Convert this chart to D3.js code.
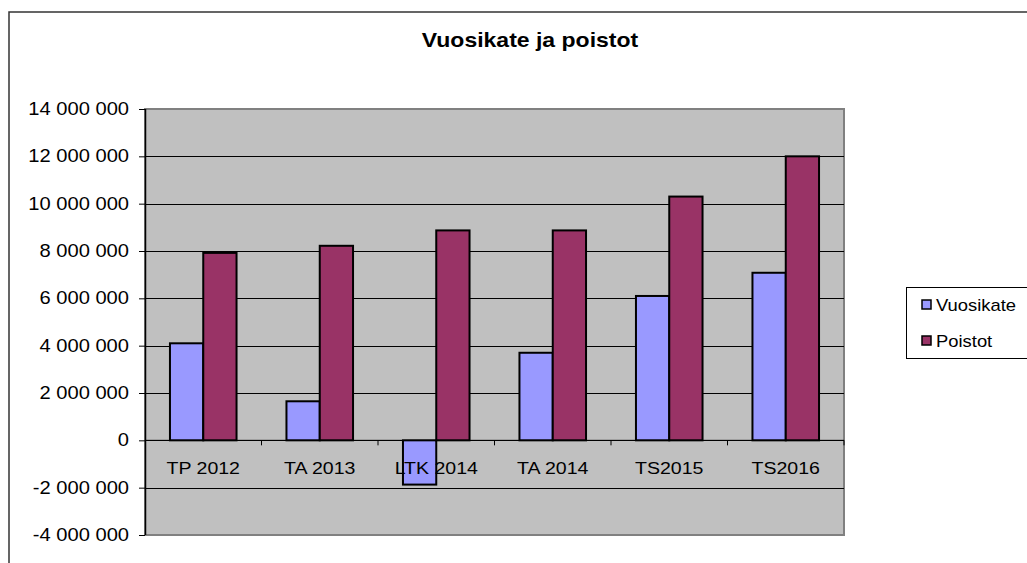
<!DOCTYPE html>
<html lang="fi">
<head>
<meta charset="utf-8"/>
<title>Vuosikate ja poistot</title>
<script src="https://d3js.org/d3.v7.min.js"></script>
<style>
  body { margin: 0; background: #fff; }
  text { font-family: "Liberation Sans", Arial, sans-serif; fill: #000; }
  .axis .domain { display: none; }
</style>
</head>
<body>
<div id="chart"></div>
<script>
// data
var categories = ["TP 2012", "TA 2013", "LTK 2014", "TA 2014", "TS2015", "TS2016"];
var seriesNames = ["Vuosikate", "Poistot"];
var vuosikate = [4100000, 1650000, -1870000, 3700000, 6100000, 7080000];
var poistot = [7920000, 8220000, 8870000, 8870000, 10300000, 12000000];
var yTicks = [-4000000, -2000000, 0, 2000000, 4000000, 6000000, 8000000, 10000000, 12000000, 14000000];
var colors = ["#9999ff", "#993366"];

var width = 1027, height = 563;
var plot = {left: 145, right: 844, top: 109, bottom: 535};
var sx = 1.15; // the original text runs wider than Arial

var svg = d3.select("#chart").append("svg")
    .attr("width", width)
    .attr("height", height);

// chart frame
svg.append("path")
    .attr("d", "M9," + (height + 2) + "V12H" + (width + 2))
    .attr("fill", "none")
    .attr("stroke", "#333")
    .attr("stroke-width", 1.5);

svg.append("text")
    .attr("transform", "translate(530,47) scale(" + sx + ",1)")
    .attr("text-anchor", "middle")
    .attr("font-size", 20)
    .attr("font-weight", "bold")
    .text("Vuosikate ja poistot");

var x0 = d3.scaleBand()
    .domain(categories)
    .range([plot.left, plot.right]);

var x1 = d3.scaleBand()
    .domain(seriesNames)
    .range([0, x0.bandwidth()])
    .paddingOuter(0.75);

var y = d3.scaleLinear()
    .domain([-4000000, 14000000])
    .range([plot.bottom, plot.top]);

svg.append("rect")
    .attr("x", plot.left)
    .attr("y", plot.top)
    .attr("width", plot.right - plot.left)
    .attr("height", plot.bottom - plot.top)
    .attr("fill", "#c0c0c0")
    .attr("stroke", "#808080")
    .attr("stroke-width", 2);

// gridlines
svg.append("g")
    .selectAll("line")
    .data(yTicks.filter(function(d) { return d > -4000000 && d < 14000000; }))
    .enter().append("line")
      .attr("x1", plot.left)
      .attr("x2", plot.right)
      .attr("y1", function(d) { return Math.round(y(d)) + 0.5; })
      .attr("y2", function(d) { return Math.round(y(d)) + 0.5; })
      .attr("stroke", "#000")
      .attr("stroke-width", 1);

var fmt = function(d) {
  return d3.format(",")(d).replace(/,/g, " ").replace("\u2212", "-");
};

var yAxis = svg.append("g")
    .attr("class", "axis")
    .attr("transform", "translate(" + plot.left + ",0)")
    .call(d3.axisLeft(y).tickValues(yTicks).tickFormat(fmt).tickSizeInner(6).tickSizeOuter(0));
yAxis.selectAll("line").attr("stroke", "#000");
yAxis.selectAll("text")
    .attr("font-size", 17.5)
    .attr("font-family", "Liberation Sans, Arial, sans-serif")
    .attr("x", 0)
    .attr("transform", "translate(-16,0) scale(" + sx + ",1)");
svg.append("line")
    .attr("x1", plot.left + 0.5).attr("x2", plot.left + 0.5)
    .attr("y1", plot.top).attr("y2", plot.bottom)
    .attr("stroke", "#000").attr("stroke-width", 1.5);

// bars
var rows = categories.map(function(c, i) {
  return {cat: c, values: [vuosikate[i], poistot[i]]};
});

svg.append("g")
    .selectAll("g")
    .data(rows)
    .enter().append("g")
      .attr("transform", function(d) { return "translate(" + x0(d.cat) + ",0)"; })
    .selectAll("rect")
    .data(function(d) { return d.values.map(function(v, j) { return {key: seriesNames[j], value: v, i: j}; }); })
    .enter().append("rect")
      .attr("x", function(d) { return x1(d.key); })
      .attr("width", x1.bandwidth())
      .attr("y", function(d) { return y(Math.max(0, d.value)); })
      .attr("height", function(d) { return Math.abs(y(d.value) - y(0)); })
      .attr("fill", function(d) { return colors[d.i]; })
      .attr("stroke", "#000")
      .attr("stroke-width", 2);

// category axis at zero
var xAxis = svg.append("g")
    .attr("class", "axis")
    .attr("transform", "translate(0," + y(0) + ")");
xAxis.append("line")
    .attr("x1", plot.left).attr("x2", plot.right)
    .attr("stroke", "#000").attr("stroke-width", 1);
xAxis.selectAll(".tk")
    .data(categories)
    .enter().append("line")
      .attr("class", "tk")
      .attr("x1", function(d) { return x0(d) + x0.bandwidth(); })
      .attr("x2", function(d) { return x0(d) + x0.bandwidth(); })
      .attr("y1", 0).attr("y2", 5)
      .attr("stroke", "#000");
xAxis.selectAll(".lbl")
    .data(categories)
    .enter().append("text")
      .attr("class", "lbl")
      .attr("transform", function(d) { return "translate(" + (x0(d) + x0.bandwidth() / 2) + ",34) scale(" + sx + ",1)"; })
      .attr("text-anchor", "middle")
      .attr("font-size", 17)
      .text(function(d) { return d; });

// legend
var legend = svg.append("g").attr("transform", "translate(906,287)");
legend.append("rect")
    .attr("x", 0.5).attr("y", 0.5)
    .attr("width", 130).attr("height", 71)
    .attr("fill", "#fff")
    .attr("stroke", "#000");
var item = legend.selectAll(".item")
    .data(seriesNames)
    .enter().append("g")
      .attr("transform", function(d, i) { return "translate(16," + (18 + i * 36) + ")"; });
item.append("rect")
    .attr("x", 0).attr("y", -5)
    .attr("width", 9).attr("height", 9)
    .attr("fill", function(d, i) { return colors[i]; })
    .attr("stroke", "#000")
    .attr("stroke-width", 1.5);
item.append("text")
    .attr("transform", "translate(14,6) scale(" + sx + ",1)")
    .attr("font-size", 16)
    .text(function(d) { return d; });
</script>
</body>
</html>
